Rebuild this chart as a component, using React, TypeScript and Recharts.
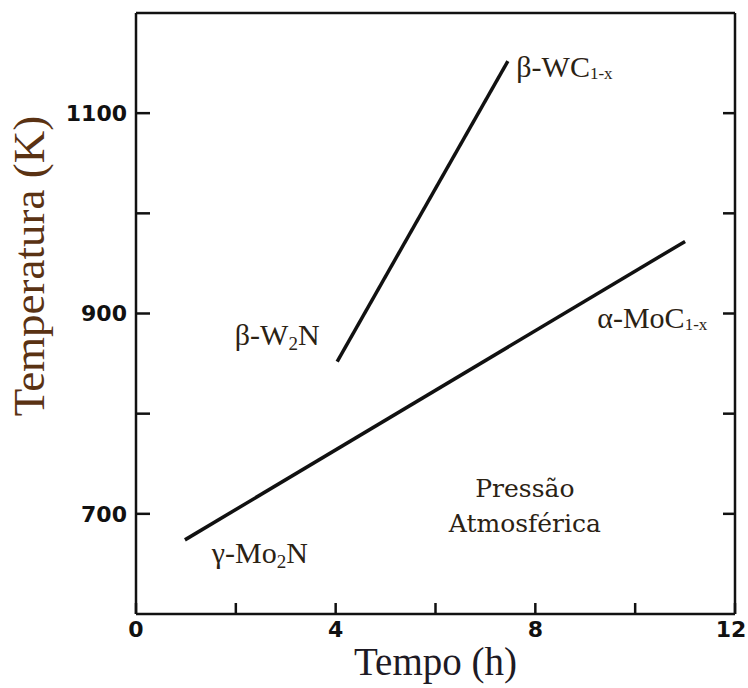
import { LineChart, Line, XAxis, YAxis, ReferenceDot, Label } from 'recharts';

// γ-Mo2N / α-MoC1-x boundary
const moTime = [0.98, 11.0];
const moTemp = [674, 972];
// β-W2N / β-WC1-x boundary
const wTime = [4.03, 7.45];
const wTemp = [852, 1152];

const timeTicks = [0, 2, 4, 6, 8, 10, 12];
const timeLabels = [0, 4, 8, 12];
const topTicks = [2, 4, 6, 8, 10];
const tempTicks = [700, 800, 900, 1000, 1100];
const tempLabels = [700, 900, 1100];

const moData = moTime.map((t, i) => ({ t, temp: moTemp[i] }));
const wData = wTime.map((t, i) => ({ t, temp: wTemp[i] }));

// fase labels, anchored at (tempo, temperatura)
const phaseNotes = [
  { x: 7.62, y: 1136, text: 'β-WC', sub: '1-x', tail: '' },
  { x: 1.98, y: 869, text: 'β-W', sub: '2', tail: 'N' },
  { x: 9.24, y: 886, text: 'α-MoC', sub: '1-x', tail: '' },
  { x: 1.52, y: 651, text: 'γ-Mo', sub: '2', tail: 'N' },
];
const pressureNotes = [
  { x: 7.79, y: 717, text: 'Pressão' },
  { x: 7.79, y: 682, text: 'Atmosférica' },
];

const INK = '#111';
const LABEL_INK = '#2b2214';
const serif = '"Liberation Serif", "Times New Roman", serif';
const tickFont = { fill: INK, fontSize: 22, fontWeight: 700, fontFamily: '"DejaVu Sans", sans-serif' };
const axisStroke = { stroke: INK, strokeWidth: 2.5 };

// bottom tick text; the last one is pulled in a little so it stays on the page
const TimeTick = (p: any) => {
  const v = p.payload?.value;
  if (!timeLabels.includes(v)) return <g />;
  const shift = v === 12 ? -4 : 0;
  return (
    <text x={p.x + shift} y={p.y} dy="0.71em" textAnchor="middle" {...tickFont}>
      {v}
    </text>
  );
};

export default function App() {
  return (
    <div style={{ width: 748, height: 688, background: '#fff' }}>
      <style>{'html,body{margin:0;padding:0;overflow:hidden;background:#fff}'}</style>
      <LineChart width={748} height={688} margin={{ top: 0, right: 0, bottom: 0, left: 0 }}>
        <XAxis
          dataKey="t"
          type="number"
          domain={[0, 12]}
          ticks={timeTicks}
          interval={0}
          height={74}
          tickSize={-11}
          tickMargin={18}
          tick={<TimeTick />}
          axisLine={axisStroke}
          tickLine={axisStroke}
          allowDataOverflow
        >
          <Label
            content={(p: any) => {
              const vb = p.viewBox;
              return (
                <text x={vb.x + vb.width / 2} y={vb.y + 61} textAnchor="middle" fontFamily={serif} fontSize={39} fill="#1e1a24">
                  Tempo (h)
                </text>
              );
            }}
          />
        </XAxis>
        <XAxis
          xAxisId="top"
          orientation="top"
          type="number"
          domain={[0, 12]}
          ticks={topTicks}
          interval={0}
          height={13}
          tickSize={-11}
          tickFormatter={() => ''}
          axisLine={axisStroke}
          tickLine={axisStroke}
          allowDataOverflow
        />
        <YAxis
          type="number"
          domain={[600, 1200]}
          ticks={tempTicks}
          interval={0}
          width={136}
          tickSize={-14}
          tickMargin={23}
          tickFormatter={(v: number) => (tempLabels.includes(v) ? String(v) : '')}
          tick={tickFont}
          axisLine={axisStroke}
          tickLine={axisStroke}
          allowDataOverflow
        >
          <Label
            content={(p: any) => {
              const vb = p.viewBox;
              const cx = 44;
              const cy = vb.y + 253;
              return (
                <text
                  x={cx}
                  y={cy}
                  transform={`rotate(-90 ${cx} ${cy})`}
                  textAnchor="middle"
                  fontFamily={serif}
                  fontSize={45}
                  fill="#5a3213"
                >
                  Temperatura (K)
                </text>
              );
            }}
          />
        </YAxis>
        <YAxis
          yAxisId="right"
          orientation="right"
          type="number"
          domain={[600, 1200]}
          ticks={tempTicks}
          interval={0}
          width={13}
          tickSize={-12}
          tickFormatter={() => ''}
          axisLine={axisStroke}
          tickLine={axisStroke}
          allowDataOverflow
        />
        <Line
          data={moData}
          dataKey="temp"
          type="linear"
          stroke={INK}
          strokeWidth={3.5}
          dot={false}
          activeDot={false}
          isAnimationActive={false}
        />
        <Line
          data={wData}
          dataKey="temp"
          type="linear"
          stroke={INK}
          strokeWidth={3.5}
          dot={false}
          activeDot={false}
          isAnimationActive={false}
        />
        {phaseNotes.map((n) => (
          <ReferenceDot
            key={n.text}
            x={n.x}
            y={n.y}
            r={0}
            ifOverflow="visible"
            shape={(p: any) => (
              <text x={p.cx} y={p.cy} fontFamily={serif} fontSize={30} fill={LABEL_INK}>
                {n.text}
                <tspan fontSize={n.sub.length > 1 ? 17 : 19} dy={n.sub.length > 1 ? 2 : 5}>
                  {n.sub}
                </tspan>
                {n.tail && <tspan fontSize={30} dy={-5}>{n.tail}</tspan>}
              </text>
            )}
          />
        ))}
        {pressureNotes.map((n) => (
          <ReferenceDot
            key={n.text}
            x={n.x}
            y={n.y}
            r={0}
            ifOverflow="visible"
            shape={(p: any) => (
              <text x={p.cx} y={p.cy} textAnchor="middle" fontFamily='"DejaVu Serif", serif' fontSize={25} fill={LABEL_INK}>
                {n.text}
              </text>
            )}
          />
        ))}
      </LineChart>
    </div>
  );
}
